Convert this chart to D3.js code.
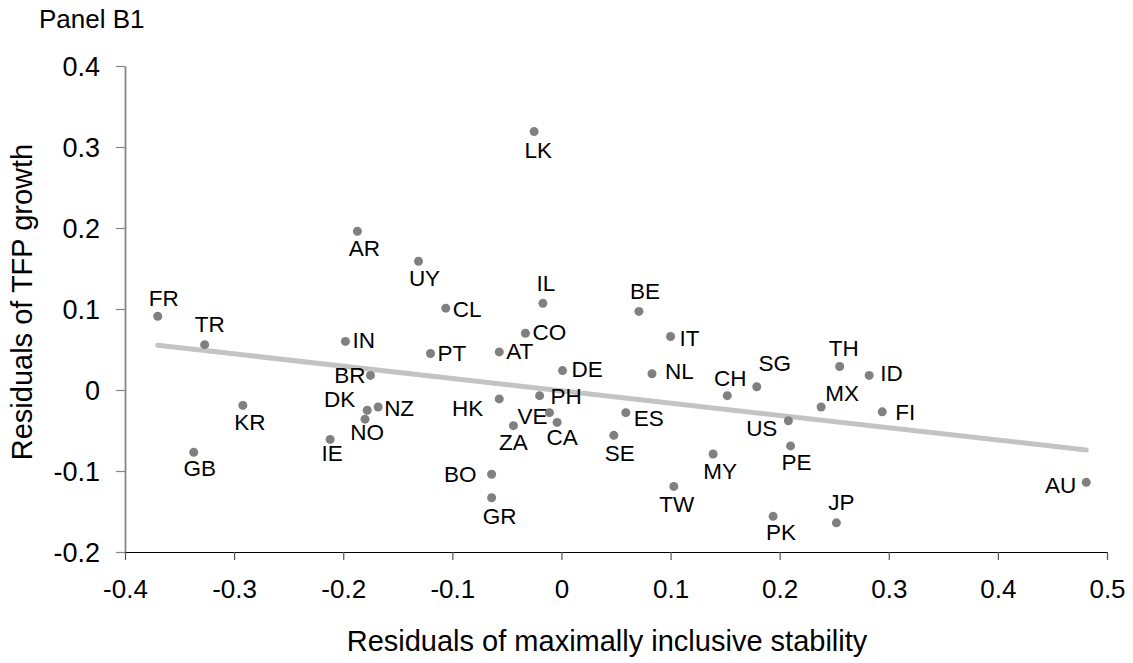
<!DOCTYPE html>
<html>
<head>
<meta charset="utf-8">
<script src="https://d3js.org/d3.v7.min.js"></script>
<style>
    body { margin: 0; background: #fff; }
    svg text { font-family: "Liberation Sans", Arial, sans-serif; fill: #000; }
    .axis path.domain { fill: none; }
</style>
</head>
<body>
<div id="chart"></div>
<script>
// country codes and their residuals
var countries = ["FR","TR","GB","KR","AR","IN","IE","BR","DK","NO","NZ","UY","CL","PT","AT","HK","BO","GR","ZA","CO","LK","PH",
    "IL","VE","CA","DE","SE","ES","BE","NL","IT","TW","MY","CH","SG","PK","US","PE","MX","JP","TH","ID","FI","AU"];
var stabilityResid = [-0.370,-0.327,-0.337,-0.292,-0.187,-0.198,-0.212,-0.175,-0.178,-0.180,-0.168,-0.131,-0.106,-0.120,-0.057,-0.057,
    -0.064,-0.064,-0.044,-0.033,-0.025,-0.020,-0.017,-0.011,-0.004,0.001,0.048,0.059,0.071,0.083,0.100,0.103,0.139,0.152,0.179,0.194,
    0.208,0.210,0.238,0.252,0.255,0.282,0.294,0.481];
var tfpResid = [0.091,0.056,-0.077,-0.019,0.196,0.060,-0.061,0.018,-0.025,-0.036,-0.021,0.159,0.101,0.045,0.047,-0.011,
    -0.104,-0.133,-0.044,0.070,0.319,-0.007,0.107,-0.028,-0.040,0.024,-0.056,-0.028,0.097,0.020,0.066,-0.119,-0.079,-0.007,0.004,-0.156,
    -0.038,-0.069,-0.021,-0.164,0.029,0.018,-0.027,-0.114];

// fitted line: intercept and slope
var trendIntercept = -0.001;
var trendSlope = -0.152;

var xTicks = [-0.4,-0.3,-0.2,-0.1,0,0.1,0.2,0.3,0.4,0.5];
var yTicks = [-0.2,-0.1,0,0.1,0.2,0.3,0.4];

// label placement: [anchor, dx, baseline dy] relative to the dot
var labelPos = {
    AR:["middle",7,25], UY:["middle",6,25], KR:["middle",7,25], NO:["middle",2,21], ZA:["middle",0,24],
    CA:["middle",5,23], IE:["middle",2,22], GB:["middle",6,24], GR:["middle",8,26], LK:["middle",4,26],
    SE:["middle",6,26], TW:["middle",3,26], MY:["middle",7,25], PE:["middle",6,24], PK:["middle",8,24],
    FR:["middle",6,-10], TR:["middle",5,-13], IL:["middle",3,-12], BE:["middle",6,-12], CH:["middle",3,-10],
    SG:["middle",18,-16], JP:["middle",5,-13], TH:["middle",4,-11], MX:["middle",21,-6],
    CL:["start",7,9], IN:["start",7,7], PT:["start",7,7], AT:["start",7,7], NZ:["start",6,9], PH:["start",11,8],
    CO:["start",7,7], DE:["start",9,6], IT:["start",9,9], NL:["start",13,5], ES:["start",8,13], ID:["start",11,6],
    FI:["start",13,8],
    BR:["end",-5,8], DK:["end",-12,-3], HK:["end",-16,17], VE:["end",-2,11], BO:["end",-15,8], US:["end",-11,15],
    AU:["end",-10,11]
};

var width = 1133, height = 663;
var margin = {top: 66, right: 26, bottom: 111, left: 125};

var svg = d3.select("#chart").append("svg")
    .attr("width", width)
    .attr("height", height);

var x = d3.scaleLinear().domain([-0.4, 0.5]).range([margin.left, width - margin.right]);
var y = d3.scaleLinear().domain([-0.2, 0.4]).range([height - margin.bottom, margin.top]);

var fmt = function (d) { return d === 0 ? "0" : d.toFixed(1); };

var data = countries.map(function (c, i) {
    return {code: c, x: stabilityResid[i], y: tfpResid[i]};
});

// y axis (grey line, ticks to the left)
var yAxis = svg.append("g")
    .attr("class", "axis")
    .attr("transform", "translate(" + margin.left + ",0)")
    .call(d3.axisLeft(y).tickValues(yTicks).tickFormat(fmt).tickSize(9).tickPadding(16).tickSizeOuter(0));
yAxis.select(".domain").attr("stroke", "#868686").attr("stroke-width", 1.8);
yAxis.selectAll(".tick line").attr("stroke", "#868686").attr("stroke-width", 1.2);
yAxis.selectAll(".tick text").style("font-size", "27px").attr("dy", "0.35em");

// x axis (black line, ticks below)
var xAxis = svg.append("g")
    .attr("class", "axis")
    .attr("transform", "translate(0," + y(-0.2) + ")")
    .call(d3.axisBottom(x).tickValues(xTicks).tickFormat(fmt).tickSize(8).tickSizeOuter(0));
xAxis.select(".domain").attr("stroke", "#000").attr("stroke-width", 1.2);
xAxis.selectAll(".tick line").attr("stroke", "#555").attr("stroke-width", 1.2);
xAxis.selectAll(".tick text").style("font-size", "26px").attr("y", 46).attr("dy", null);

// trend line
var xExt = d3.extent(stabilityResid);
svg.append("line")
    .attr("x1", x(xExt[0]))
    .attr("y1", y(trendIntercept + trendSlope * xExt[0]))
    .attr("x2", x(xExt[1]))
    .attr("y2", y(trendIntercept + trendSlope * xExt[1]))
    .attr("stroke", "#c3c3c3")
    .attr("stroke-width", 5)
    .attr("stroke-linecap", "round");

// dots
svg.selectAll("circle.dot")
    .data(data)
    .enter()
    .append("circle")
    .attr("class", "dot")
    .attr("cx", function (d) { return x(d.x); })
    .attr("cy", function (d) { return y(d.y); })
    .attr("r", 4.5)
    .attr("fill", "#808080");

// country labels
svg.selectAll("text.label")
    .data(data)
    .enter()
    .append("text")
    .attr("class", "label")
    .attr("x", function (d) { return x(d.x) + labelPos[d.code][1]; })
    .attr("y", function (d) { return y(d.y) + labelPos[d.code][2]; })
    .attr("text-anchor", function (d) { return labelPos[d.code][0]; })
    .style("font-size", "22.5px")
    .text(function (d) { return d.code; });

// titles
svg.append("text")
    .attr("x", 39)
    .attr("y", 28)
    .style("font-size", "26px")
    .text("Panel B1");

svg.append("text")
    .attr("transform", "translate(32," + 302 + ") rotate(-90)")
    .attr("text-anchor", "middle")
    .style("font-size", "29px")
    .text("Residuals of TFP growth");

svg.append("text")
    .attr("x", 607)
    .attr("y", 651)
    .attr("text-anchor", "middle")
    .style("font-size", "29px")
    .text("Residuals of maximally inclusive stability");
</script>
</body>
</html>
